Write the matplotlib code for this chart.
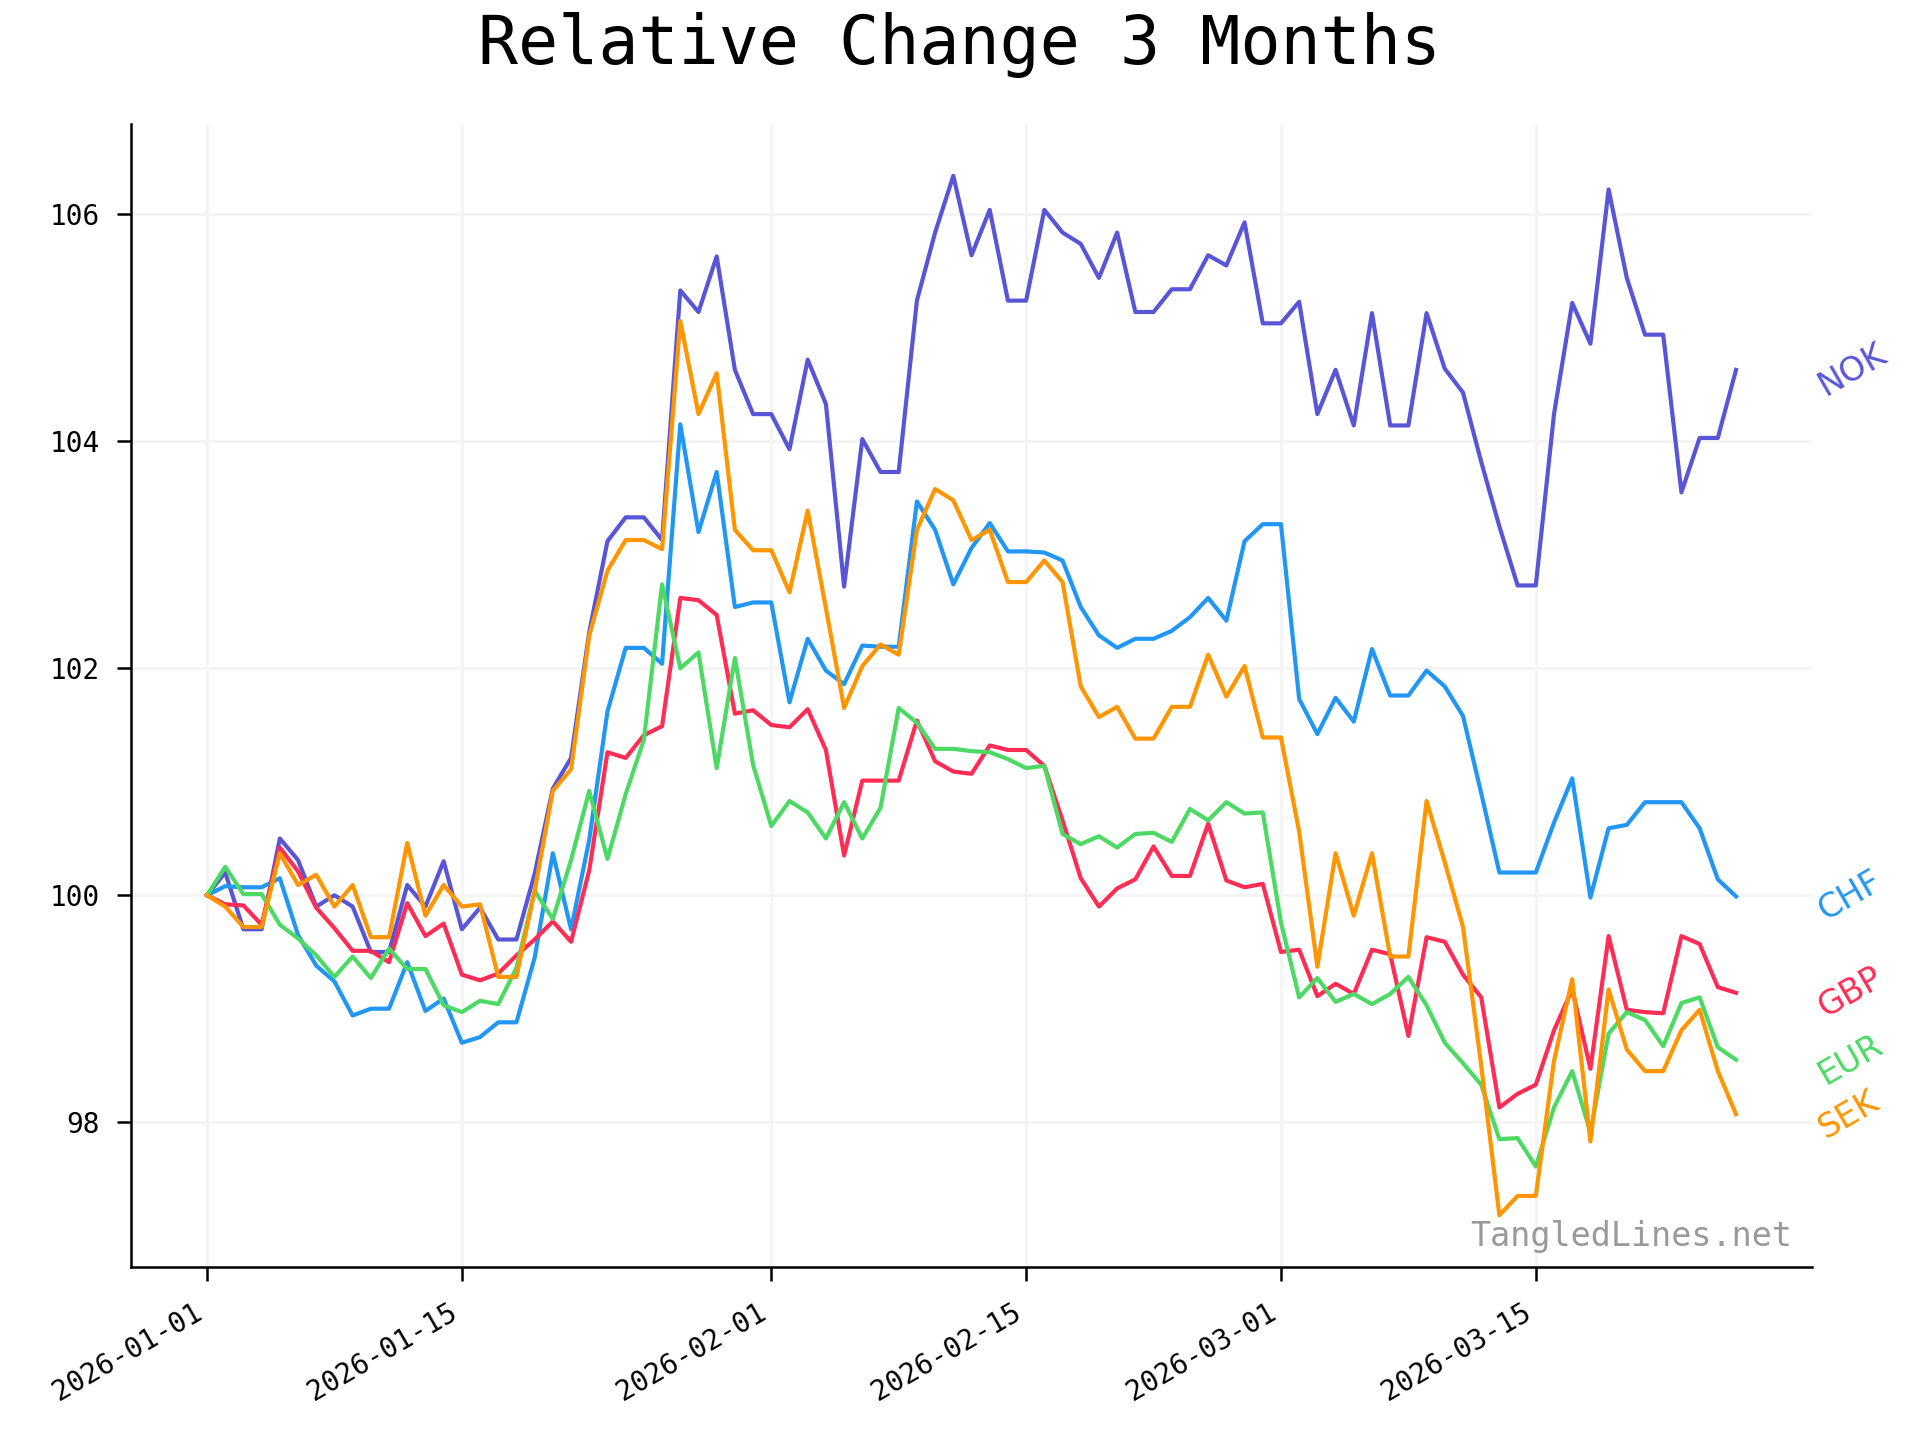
import matplotlib
matplotlib.use("Agg")
import matplotlib.pyplot as plt
import matplotlib.dates as mdates
from matplotlib.ticker import MultipleLocator
import matplotlib.transforms as mtransforms
import pandas as pd

# daily values, 2026-01-01 .. 2026-03-26 (index = 100 at start)
start_date = "2026-01-01"
n_days = 85

nok = [100.00, 100.20, 99.70, 99.70, 100.50, 100.31, 99.90, 100.00, 99.90, 99.50,
       99.50, 100.09, 99.90, 100.30, 99.70, 99.89, 99.61, 99.61, 100.19, 100.94,
       101.21, 102.32, 103.12, 103.33, 103.33, 103.13, 105.33, 105.14, 105.63, 104.63,
       104.24, 104.24, 103.93, 104.72, 104.33, 102.72, 104.02, 103.73, 103.73, 105.24,
       105.84, 106.34, 105.64, 106.04, 105.24, 105.24, 106.04, 105.84, 105.74, 105.44,
       105.84, 105.14, 105.14, 105.34, 105.34, 105.64, 105.55, 105.93, 105.04, 105.04,
       105.23, 104.24, 104.63, 104.14, 105.13, 104.14, 104.14, 105.13, 104.64, 104.43,
       103.82, 103.25, 102.73, 102.73, 104.24, 105.22, 104.86, 106.22, 105.44, 104.94,
       104.94, 103.55, 104.03, 104.03, 104.63]

chf = [100.00, 100.08, 100.07, 100.07, 100.15, 99.65, 99.38, 99.24, 98.94, 99.00,
       99.00, 99.41, 98.98, 99.09, 98.70, 98.75, 98.88, 98.88, 99.45, 100.37,
       99.70, 100.49, 101.62, 102.18, 102.18, 102.04, 104.15, 103.20, 103.73, 102.54,
       102.58, 102.58, 101.70, 102.26, 101.98, 101.86, 102.20, 102.19, 102.19, 103.47,
       103.22, 102.74, 103.06, 103.28, 103.03, 103.03, 103.02, 102.95, 102.54, 102.29,
       102.18, 102.26, 102.26, 102.33, 102.45, 102.62, 102.42, 103.12, 103.27, 103.27,
       101.73, 101.42, 101.74, 101.53, 102.17, 101.76, 101.76, 101.98, 101.84, 101.58,
       100.90, 100.20, 100.20, 100.20, 100.64, 101.03, 99.98, 100.59, 100.62, 100.82,
       100.82, 100.82, 100.59, 100.14, 99.99]

gbp = [100.00, 99.92, 99.91, 99.74, 100.42, 100.21, 99.89, 99.71, 99.51, 99.51,
       99.41, 99.93, 99.64, 99.75, 99.30, 99.25, 99.31, 99.47, 99.61, 99.77,
       99.59, 100.22, 101.26, 101.21, 101.41, 101.49, 102.62, 102.60, 102.47, 101.60,
       101.63, 101.50, 101.48, 101.64, 101.28, 100.35, 101.01, 101.01, 101.01, 101.54,
       101.18, 101.09, 101.07, 101.32, 101.28, 101.28, 101.14, 100.66, 100.15, 99.90,
       100.06, 100.14, 100.43, 100.17, 100.17, 100.63, 100.13, 100.07, 100.10, 99.50,
       99.52, 99.11, 99.22, 99.13, 99.52, 99.48, 98.76, 99.63, 99.59, 99.30,
       99.10, 98.13, 98.25, 98.33, 98.81, 99.17, 98.47, 99.64, 98.99, 98.97,
       98.96, 99.64, 99.57, 99.19, 99.14]

eur = [100.00, 100.25, 100.01, 100.01, 99.74, 99.62, 99.47, 99.28, 99.46, 99.27,
       99.53, 99.35, 99.35, 99.03, 98.97, 99.07, 99.04, 99.36, 100.04, 99.79,
       100.31, 100.92, 100.32, 100.89, 101.37, 102.74, 102.00, 102.14, 101.12, 102.09,
       101.15, 100.61, 100.83, 100.73, 100.50, 100.82, 100.50, 100.77, 101.65, 101.52,
       101.29, 101.29, 101.27, 101.26, 101.20, 101.12, 101.14, 100.54, 100.45, 100.52,
       100.42, 100.54, 100.55, 100.47, 100.76, 100.66, 100.82, 100.72, 100.73, 99.76,
       99.10, 99.27, 99.06, 99.13, 99.04, 99.13, 99.28, 99.03, 98.70, 98.52,
       98.33, 97.85, 97.86, 97.61, 98.13, 98.45, 97.91, 98.78, 98.97, 98.90,
       98.67, 99.05, 99.10, 98.66, 98.55]

sek = [100.00, 99.90, 99.72, 99.72, 100.37, 100.09, 100.18, 99.90, 100.09, 99.63,
       99.63, 100.46, 99.82, 100.09, 99.90, 99.92, 99.28, 99.28, 100.04, 100.92,
       101.11, 102.29, 102.86, 103.13, 103.13, 103.05, 105.06, 104.24, 104.60, 103.22,
       103.04, 103.04, 102.67, 103.39, 102.53, 101.65, 102.02, 102.21, 102.12, 103.22,
       103.58, 103.48, 103.13, 103.22, 102.76, 102.76, 102.95, 102.76, 101.84, 101.57,
       101.66, 101.38, 101.38, 101.66, 101.66, 102.12, 101.75, 102.02, 101.39, 101.39,
       100.56, 99.37, 100.37, 99.82, 100.37, 99.46, 99.46, 100.83, 100.29, 99.72,
       98.50, 97.18, 97.35, 97.35, 98.54, 99.26, 97.83, 99.17, 98.64, 98.45,
       98.45, 98.81, 98.99, 98.45, 98.07]

names = ["NOK", "CHF", "GBP", "EUR", "SEK"]
series = [nok, chf, gbp, eur, sek]
colors = ["#5856D6", "#2196F3", "#FF2D55", "#4CD964", "#FF9500"]

dates = pd.date_range(start_date, periods=n_days, freq="D")
mono = "DejaVu Sans Mono"

fig, ax = plt.subplots(figsize=(9.6, 7.2), dpi=200)
fig.subplots_adjust(left=0.068, right=0.944, bottom=0.12, top=0.914)

for name, vals, col in zip(names, series, colors):
    ax.plot(dates, vals, color=col, linewidth=1.5)

# currency labels just right of the axes, at the last value
trans = mtransforms.blended_transform_factory(ax.transAxes, ax.transData)
for name, vals, col in zip(names, series, colors):
    ax.text(1.0, vals[-1], name, transform=trans, color=col, fontsize=12,
            rotation=30, ha="left", va="center", clip_on=False)

ax.grid(True, color="#f4f4f4", linewidth=1.0)
ax.set_axisbelow(True)
for side in ["top", "right"]:
    ax.spines[side].set_visible(False)
for side in ["left", "bottom"]:
    ax.spines[side].set_linewidth(0.9)

ax.yaxis.set_major_locator(MultipleLocator(2))
ax.xaxis.set_major_locator(mdates.DayLocator(bymonthday=[1, 15]))
ax.xaxis.set_major_formatter(mdates.DateFormatter("%Y-%m-%d"))
ax.tick_params(axis="both", length=5, width=0.9, pad=6, labelsize=10)
for lbl in ax.get_xticklabels():
    lbl.set_rotation(30)
    lbl.set_ha("right")
    lbl.set_fontfamily(mono)
for lbl in ax.get_yticklabels():
    lbl.set_fontfamily(mono)

ax.text(0.988, 0.012, "TangledLines.net", transform=ax.transAxes,
        ha="right", va="bottom", fontsize=12, color="#999999", fontfamily=mono)

fig.text(0.5, 0.969, "Relative Change 3 Months", ha="center", va="center",
         fontsize=24, fontfamily=mono)

fig.savefig("out.png", dpi=200)
